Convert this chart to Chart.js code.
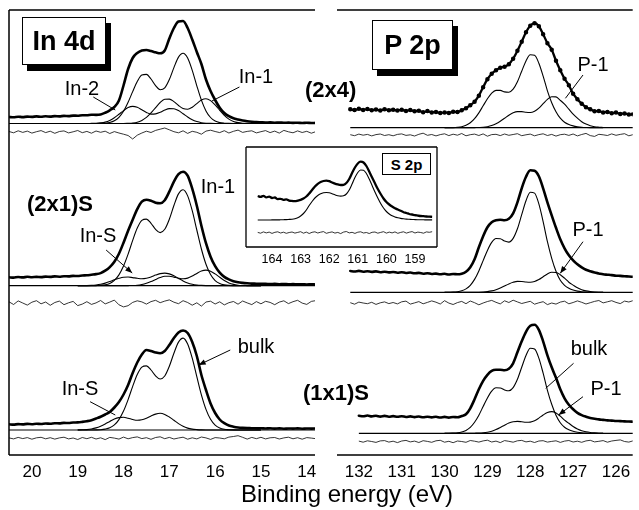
<!DOCTYPE html>
<html>
<head>
<meta charset="utf-8">
<script src="https://cdn.jsdelivr.net/npm/chart.js@4.4.1/dist/chart.umd.min.js"></script>
<style>
html,body{margin:0;padding:0;background:#fff;}
body{position:relative;width:639px;height:510px;overflow:hidden;font-family:"Liberation Sans",Arial,Helvetica,sans-serif;color:#000;}
canvas{position:absolute;}
.t{position:absolute;white-space:nowrap;line-height:1;font-size:20px;transform:translate(-50%,-50%);}
.b{position:absolute;white-space:nowrap;line-height:1;font-weight:bold;font-size:22px;transform:translate(0,-50%);}
.box{position:absolute;box-sizing:border-box;border:1.6px solid #000;background:#fff;display:flex;align-items:center;justify-content:center;font-weight:bold;line-height:1;}
</style>
</head>
<body>
<canvas id="cL" width="330" height="510" style="left:0;top:0;width:330px;height:510px"></canvas>
<canvas id="cR" width="309" height="510" style="left:330px;top:0;width:309px;height:510px"></canvas>
<canvas id="cS" width="205" height="140" style="left:240px;top:140px;width:205px;height:140px"></canvas>

<div class="box" style="left:22px;top:17px;width:84px;height:48px;font-size:27px;box-shadow:5px 6px 0 #000">In 4d</div>
<div class="box" style="left:372px;top:20px;width:81px;height:50px;font-size:27px;box-shadow:5px 6px 0 #000">P 2p</div>
<div class="box" style="left:382px;top:153px;width:49px;height:22px;font-size:15px;border-width:1.3px">S 2p</div>

<div class="b" style="left:305px;top:90px">(2x4)</div>
<div class="b" style="left:27px;top:204px">(2x1)S</div>
<div class="b" style="left:303px;top:393px">(1x1)S</div>

<div class="t" style="left:82px;top:88px">In-2</div>
<div class="t" style="left:256px;top:76px">In-1</div>
<div class="t" style="left:218px;top:186px">In-1</div>
<div class="t" style="left:98px;top:235px">In-S</div>
<div class="t" style="left:80px;top:388px">In-S</div>
<div class="t" style="left:256px;top:346px">bulk</div>
<div class="t" style="left:593px;top:64px">P-1</div>
<div class="t" style="left:588px;top:229px">P-1</div>
<div class="t" style="left:589px;top:348px">bulk</div>
<div class="t" style="left:606px;top:388px">P-1</div>
<div class="t" style="left:347px;top:494px;font-size:24px">Binding energy (eV)</div>

<script>
// ---------------- DATA ----------------
// In 4d panel
const inEnergy = [
20.5,20.4,20.3,20.2,20.1,20.0,19.9,19.8,19.7,19.6,
19.5,19.4,19.3,19.2,19.1,19.0,18.9,18.8,18.7,18.6,
18.5,18.4,18.3,18.2,18.1,18.0,17.9,17.8,17.7,17.6,
17.5,17.4,17.3,17.2,17.1,17.0,16.9,16.8,16.7,16.6,
16.5,16.4,16.3,16.2,16.1,16.0,15.9,15.8,15.7,15.6,
15.5,15.4,15.3,15.2,15.1,15.0,14.9,14.8,14.7,14.6,
14.5,14.4,14.3,14.2,14.1,14.0,13.9,13.8];
const inPeakE = [
19.0,18.9,18.8,18.7,18.6,18.5,18.4,18.3,18.2,18.1,
18.0,17.9,17.8,17.7,17.6,17.5,17.4,17.3,17.2,17.1,
17.0,16.9,16.8,16.7,16.6,16.5,16.4,16.3,16.2,16.1,
16.0,15.9,15.8,15.7,15.6,15.5,15.4,15.3,15.2,15.1,
15.0];
const inTicks = [20,19,18,17,16,15,14];

// (2x4)
const in24Raw = [
6.5,6.2,6.8,6.4,6.9,6.6,7.1,6.7,7.2,6.9,
7.4,7.1,7.6,7.4,7.9,7.8,8.3,8.2,8.8,8.6,
9.0,10.8,13.2,16.5,23,38,54.5,65.5,70.5,73,
73.5,72.5,71.2,70.2,73,85,95.5,102,102.5,95.5,
84,71.5,59.5,44,32.5,23.5,15.8,10.5,7.3,5.2,
4,3,2.3,1.8,1.4,1.2,1.0,1.1,0.8,1.0,
0.7,0.9,0.6,0.8,0.5,0.7,0.5,0.6];
const in24Bulk = [
0,0,0,0,0,0.1,0.3,1.0,2.7,6.2,
12.2,21.2,31.9,42.0,48.5,49.1,44.5,37.9,33.8,35.6,
43.9,55.9,66.4,70.3,65.5,53.2,37.7,23.4,12.6,6.0,
2.5,0.9,0.3,0.1,0,0,0,0,0,0,
0];
const in24In1 = [
0,0,0,0,0,0,0,0,0,0,
0,0.2,0.5,1.3,3.1,6.1,10.6,15.9,21.0,24.2,
24.4,21.9,18.0,15.0,14.3,16.3,19.9,23.4,24.7,22.9,
18.6,13.2,8.2,4.4,2.1,0.9,0.3,0.1,0,0,
0];
const in24In2 = [
0,0,0,0.1,0.2,0.6,1.4,3.1,5.7,9.2,
12.9,15.9,17.1,16.2,13.7,11.1,9.4,9.6,11.2,13.5,
14.9,14.8,12.9,9.8,6.5,3.7,1.9,0.8,0.3,0.1,
0,0,0,0,0,0,0,0,0,0,
0];
const in24Res = [
0.5,-0.8,1.2,-0.4,0.9,-1.1,0.3,1.4,-0.6,0.8,
-1.3,0.5,1.1,-0.9,0.2,1.5,-0.7,0.6,-1.2,1.0,
-0.3,0.8,-1.5,0.4,-1.0,-2.2,-3.5,-7.0,-3.2,-1.0,
0.8,-0.5,1.6,2.8,4.0,2.2,0.3,-0.8,1.2,-1.4,
0.7,-0.3,-2.2,0.9,1.8,0.5,-0.6,1.3,-1.0,0.7,
1.9,-0.4,0.6,1.2,-0.9,0.3,1.4,-0.6,0.9,-1.1,
1.6,0.2,-0.8,1.1,-0.5,0.7,-1.2,0.4];

// (2x1)S
const in21Raw = [
8.4,8.1,8.7,8.3,8.9,8.5,8.8,8.6,9.1,8.8,
9.3,9.0,9.5,9.3,9.8,9.7,10.2,10.4,11.0,11.6,
12.6,15,18.6,24,32,43,55,66,76.5,84,
86,85,83,82.5,85.5,94,104,111.5,114,110,
97,80,60,42.5,29,19.5,13,8.8,6.3,4.5,
3.4,2.8,2.4,2.1,2.0,1.8,1.9,1.6,1.8,1.5,
1.7,1.4,1.6,1.3,1.5,1.2,1.4,1.2];
const in21Bulk = [
0,0,0,0,0.1,0.3,0.9,2.3,5.3,10.8,
19.7,31.6,45.3,57.6,65.3,66.6,62.4,56.4,53.1,56.4,
66.5,80.2,91.8,95.9,89.8,75.0,55.7,36.7,21.5,11.2,
5.1,2.1,0.8,0.3,0.1,0,0,0,0,0,
0];
const in21InS = [
0,0,0.1,0.3,0.7,1.4,2.6,4.1,5.9,7.4,
8.5,8.7,8.1,7.4,6.9,7.4,8.7,10.6,12.1,12.6,
11.8,9.9,7.3,4.8,2.8,1.5,0.7,0.3,0.1,0,
0,0,0,0,0,0,0,0,0,0,
0];
const in21In1 = [
0,0,0,0,0,0,0,0,0,0,
0,0.1,0.2,0.5,1.2,2.4,4.1,6.2,8.1,9.4,
9.5,8.6,7.5,6.9,7.6,9.6,12.3,14.7,15.6,14.5,
11.8,8.4,5.2,2.8,1.3,0.5,0.2,0.1,0,0,
0];
const in21Res = [
1.5,-1.2,2.4,0.3,-1.8,1.1,2.6,-0.5,1.3,-2.0,
0.8,2.2,-1.4,0.5,1.9,-2.3,-0.8,1.6,-1.1,0.4,
2.8,-0.6,1.2,3.2,-1.5,-3.6,-2.4,0.9,2.5,1.4,
-0.8,1.7,3.0,0.6,2.2,3.4,1.1,-0.4,2.6,0.8,
-1.9,0.5,-2.8,1.3,2.1,-0.7,1.5,-1.6,0.6,1.8,
-0.9,2.3,0.4,-1.3,1.7,-0.5,2.0,0.9,-1.4,1.2,
2.5,-0.3,1.6,3.0,0.2,-1.1,1.9,2.7];

// (1x1)S
const in11Raw = [
5.7,5.4,5.9,5.6,6.1,5.8,6.2,6.0,6.5,6.3,
6.8,6.6,7.1,7.0,7.5,7.6,8.1,8.8,9.8,11.5,
13.3,15.5,18,22.5,28,35.5,45,57,67.5,75.5,
80,79,77.5,76.7,79,85,92,97.5,99.5,97,
88,74,55,40,26.5,17,10.5,6.8,4.5,3.3,
2.5,2.1,1.9,1.8,1.6,1.7,1.5,1.7,1.4,1.6,
1.3,1.5,1.4,1.6,1.3,1.5,1.4,1.5];
const in11Bulk = [
0,0,0,0,0.1,0.3,0.9,2.2,5.1,10.4,
18.9,30.4,43.6,55.4,62.8,64.1,60.0,54.2,51.0,54.0,
63.7,76.8,87.9,91.9,86.0,71.8,53.3,35.1,20.6,10.7,
4.9,2.0,0.7,0.3,0.1,0,0,0,0,0,
0];
const in11InS = [
0.1,0.2,0.4,1.0,2.1,3.8,6.0,8.6,11.0,12.4,
12.7,11.8,10.5,9.7,10.2,11.8,14.0,15.9,16.7,15.6,
13.0,9.7,6.4,3.7,1.9,0.9,0.4,0.1,0,0,
0,0,0,0,0,0,0,0,0,0,
0];
const in11Res = [
0.4,-0.6,0.9,-0.3,0.7,-0.9,0.5,1.0,-0.5,0.6,
-0.8,0.4,1.1,-0.6,0.3,-1.2,0.8,-0.4,1.0,-0.7,
0.5,-1.3,0.9,0.2,-0.8,1.2,-0.5,0.7,1.4,-0.3,
0.6,-1.0,0.8,1.5,-0.4,0.9,-0.7,0.3,1.1,-0.9,
0.5,-0.6,1.3,0.4,-1.1,0.7,0.3,-0.5,1.2,1.8,
2.6,1.0,-0.8,0.9,-0.4,1.0,-0.6,0.5,0.8,-0.7,
0.4,1.1,-0.5,0.6,-0.9,0.7,0.2,-0.4];

// P 2p panel
const pEnergy = [
132.2,132.1,132.0,131.9,131.8,131.7,131.6,131.5,131.4,131.3,
131.2,131.1,131.0,130.9,130.8,130.7,130.6,130.5,130.4,130.3,
130.2,130.1,130.0,129.9,129.8,129.7,129.6,129.5,129.4,129.3,
129.2,129.1,129.0,128.9,128.8,128.7,128.6,128.5,128.4,128.3,
128.2,128.1,128.0,127.9,127.8,127.7,127.6,127.5,127.4,127.3,
127.2,127.1,127.0,126.9,126.8,126.7,126.6,126.5,126.4,126.3,
126.2,126.1,126.0,125.9,125.8,125.7,125.6];
const pPeakE = [
130.0,129.9,129.8,129.7,129.6,129.5,129.4,129.3,129.2,129.1,
129.0,128.9,128.8,128.7,128.6,128.5,128.4,128.3,128.2,128.1,
128.0,127.9,127.8,127.7,127.6,127.5,127.4,127.3,127.2,127.1,
127.0,126.9,126.8,126.7,126.6,126.5,126.4,126.3];
const pTicks = [132,131,130,129,128,127,126];

const p24Raw = [
18.4,17.6,18.9,17.8,18.6,17.5,18.3,17.2,18.5,17.4,
18.0,17.1,17.9,16.8,17.6,16.5,16.9,15.4,16.6,15.2,
15.8,14.6,15.3,14.8,15.9,15.6,17.5,19.5,22.5,26,
32,40.5,48.5,54,57.5,60,61,63.5,69,77,
86,95.5,102,104.5,101.5,93.5,84.5,78,67,57.5,
49,42.5,34,28.5,24,20.5,18.5,16.5,16.8,15.2,
15.8,14.5,15.1,13.8,14.2,13.1,13.5];
const p24Bulk = [
0,0,0.1,0.4,1.0,2.4,4.9,9.0,14.8,21.9,
28.9,34.6,37.3,37.3,35.8,35.5,38.5,45.9,56.5,66.8,
73.0,72.4,64.5,51.6,36.9,25,16,9.5,5.5,3.2,
1.8,1.0,0.5,0.2,0,0,0,0];
const p24P1 = [
0,0,0,0,0,0,0,0.1,0.2,0.4,
1.0,2.1,3.9,6.4,9.4,12.5,14.9,16.1,16.1,15.4,
15.2,16.5,19.6,24.0,28.3,31.0,30.8,27.4,23.5,18.5,
13.5,9.5,6.0,3.6,2.0,1.0,0.5,0.2];
const p24Res = [
0.3,-0.7,0.9,-0.2,0.6,-0.9,0.4,1.0,-0.5,0.3,
-0.8,0.6,1.1,-0.4,0.2,-1.0,0.7,1.8,-0.3,0.5,
-0.9,0.4,1.2,-0.6,0.8,-0.2,1.5,-0.8,0.3,0.9,
-0.5,1.1,-1.2,0.4,0.7,-0.6,1.0,-0.3,0.5,1.3,
-0.7,0.2,0.9,-0.8,0.4,1.2,-0.5,0.6,-1.1,0.3,
0.8,-0.4,1.0,-0.9,0.5,1.6,-0.6,-1.4,0.7,0.2,
-0.5,1.1,-0.3,0.6,1.3,-0.8,0.4];

const p21Raw = [
21.3,20.8,21.4,20.6,21.1,20.4,20.9,20.1,20.6,19.9,
20.3,19.6,20.1,19.3,19.8,19.0,19.4,18.6,19.1,18.3,
18.7,18.0,18.5,17.8,18.3,18.0,18.6,20.5,25,33,
45,56,65,70,72,72.5,72,73.5,79,90,
104,115.5,122,121.5,116,104,90,77,64.5,53,
44,37,32,28,25,22.5,21,19.8,18.9,18.0,
17.6,17.2,16.6,16.4,16.0,15.8,15.5];
const p21Bulk = [
0,0.1,0.2,0.6,1.5,3.4,7.0,12.9,21.4,31.7,
41.9,49.9,53.8,53.6,51.3,50.2,53.9,63.5,77.7,91.6,
100.1,99.2,88.4,70.7,50.6,34,21,12,7,4,
2.2,1.2,0.6,0.3,0.1,0,0,0];
const p21P1 = [
0,0,0,0,0,0,0,0,0.1,0.3,
0.7,1.4,2.6,4.3,6.4,8.4,10.0,10.9,10.8,10.3,
10.1,10.8,12.7,15.5,18.3,20.0,19.8,17.6,14.1,10.1,
7.2,4.5,2.6,1.4,0.7,0.3,0.1,0];
const p21Res = [
0.6,-0.9,1.2,0.3,-0.4,1.0,-1.1,0.5,1.4,-0.3,
0.8,-0.6,1.5,2.2,-0.8,0.4,1.7,-0.5,0.9,2.4,
1.1,-0.7,2.6,0.2,-1.2,0.7,1.9,-0.4,2.3,0.6,
-1.5,0.3,1.8,2.9,1.0,-0.6,2.5,0.8,3.1,1.4,
-0.2,0.9,2.0,-0.9,0.5,1.6,-1.3,0.3,-0.8,1.2,
2.1,-0.5,0.8,2.4,1.0,-0.7,0.6,1.9,2.8,0.4,
1.5,2.6,0.9,-0.3,2.2,1.3,2.7];

const p11Raw = [
null,null,17.6,17.0,17.8,16.9,17.5,16.7,17.4,16.6,
17.2,16.5,17.1,16.3,16.9,16.2,16.8,16.0,16.6,15.9,
16.5,15.8,16.4,15.7,16.3,16.0,17.3,19,25,34,
44,52.5,58.5,62.5,63.5,63.5,63,64.5,70,81,
92,101.5,107.5,108.5,103.5,92,78,66,55.5,44,
35,28.5,24,20.5,18.2,16.6,15.3,14.6,13.9,13.4,
12.9,12.7,12.3,12.2,11.9,11.8,11.6];
const p11Bulk = [
0,0,0.2,0.5,1.3,2.9,5.9,11.0,18.1,26.8,
35.4,42.2,45.5,45.3,43.4,42.5,45.7,54.0,66.0,77.9,
85.1,84.3,75.2,60.1,43.0,29,18,10.5,6,3.5,
2,1.1,0.5,0.2,0,0,0,0];
const p11P1 = [
0,0,0,0,0,0,0,0.1,0.2,0.5,
1.1,2.1,3.7,5.8,8.1,10.2,11.5,11.9,11.5,11.0,
11.2,12.5,15.2,18.3,20.8,21.7,20.4,17.2,13.1,10,
6.8,4.3,2.6,1.5,0.8,0.4,0.1,0];
const p11Res = [
null,null,0.6,-0.5,0.9,0.2,-0.7,0.8,1.1,-0.4,
0.5,-0.9,0.7,1.3,-0.2,0.6,-0.8,1.0,0.3,-0.6,
0.9,1.4,-0.5,0.4,-1.0,0.7,0.2,-0.6,1.2,0.5,
-0.4,0.8,1.5,-0.3,0.6,-0.9,1.1,0.4,-0.5,0.9,
1.3,-0.2,0.5,-0.8,0.7,1.0,-0.4,0.3,0.9,-0.7,
0.6,1.2,-0.3,0.5,-0.6,0.8,1.4,-0.2,0.4,1.1,
-0.5,0.7,1.3,1.8,0.2,-0.4,0.9];

// S 2p inset
const sEnergy = [
164.5,164.4,164.3,164.2,164.1,164.0,163.9,163.8,163.7,163.6,
163.5,163.4,163.3,163.2,163.1,163.0,162.9,162.8,162.7,162.6,
162.5,162.4,162.3,162.2,162.1,162.0,161.9,161.8,161.7,161.6,
161.5,161.4,161.3,161.2,161.1,161.0,160.9,160.8,160.7,160.6,
160.5,160.4,160.3,160.2,160.1,160.0,159.9,159.8,159.7,159.6,
159.5,159.4,159.3,159.2,159.1,159.0,158.9,158.8,158.7,158.6,
158.5,158.4];
const sTicks = [164,163,162,161,160,159];
const sRaw = [
24.0,23.2,24.1,22.6,23.4,22.0,22.5,20.9,21.2,20.1,
20.6,19.4,19.1,18.8,19.4,20.2,21.5,23.5,26.5,30.0,
33.5,36.2,38.0,39.0,39.4,38.8,37.5,36.4,35.6,35.0,
35.2,37.0,41.0,47.0,52.5,56.5,58.3,57.5,54.0,48.5,
42.5,36.7,31.0,26.0,21.5,18.0,15.5,13.5,11.8,10.5,
9.2,7.8,7.0,6.0,5.5,4.8,4.4,4.0,3.8,3.5,
3.4,3.2];
const sFit = [
0,0,0,0,0,0.1,0.1,0.1,0.2,0.3,
0.4,0.6,0.8,1.3,2.3,4.0,6.5,10.0,14.5,18.5,
22.0,24.5,26.2,27.2,27.5,27.2,26.3,25.2,24.3,23.9,
24.2,26.0,30.0,36.0,42.5,47.5,50.0,49.8,46.5,41.0,
34.5,28.0,22.0,16.5,12.0,8.5,6.0,4.2,3.0,2.2,
1.6,1.2,0.9,0.7,0.5,0.4,0.3,0.2,0.2,0.1,
0.1,0.1];
const sRes = [
0.3,-0.5,0.8,-0.2,0.6,-0.7,0.4,0.9,-0.3,0.5,
-0.6,0.2,0.7,-0.4,0.3,1.0,-0.5,0.6,-0.8,0.4,
0.9,-0.3,0.5,1.1,-0.6,0.2,0.8,-0.4,0.3,-0.9,
0.6,1.2,-0.2,0.4,-0.7,0.5,0.9,-0.3,0.2,-0.8,
0.4,0.7,-0.5,0.3,1.0,-0.4,0.6,-0.2,0.8,-0.6,
0.3,0.9,-0.4,0.5,1.1,-0.3,0.6,0.2,-0.5,0.8,
0.4,1.0];

// ---------------- LAYOUT (vertical offsets of each stacked spectrum) ----------------
const OFF = {L24:331.5, L24r:323, L21:169.3, L21r:151.7, L11:25, L11r:16.7,
             R24:327.3, R24r:320, R21:162.7, R21r:151.7, R11:21.7, R11r:13.3,
             S:27, Sr:14.3};
const FONT = '"Liberation Sans", Arial, Helvetica, sans-serif';

const RAW = {borderWidth:2.6, tension:0.4, cubicInterpolationMode:'monotone', borderJoinStyle:'round', borderCapStyle:'round'};
const FIT = {borderWidth:1.1, tension:0.4, cubicInterpolationMode:'monotone'};
const BASE = {borderWidth:1.2, tension:0};
const RES = {borderWidth:0.8, tension:0};

function pts(xs, ys, off){ const o=[]; xs.forEach((x,i)=>{ if(ys[i]!=null) o.push({x:x, y:ys[i]+off}); }); return o; }
function ds(data, st){ return Object.assign({data:data, borderColor:'#000', backgroundColor:'#000', pointRadius:0, fill:false}, st); }
function firstE(xs, ys){ for(let i=0;i<xs.length;i++){ if(ys[i]!=null) return xs[i]; } return xs[0]; }
function baseLine(xs, ys, off){ const a=firstE(xs,ys), b=xs[xs.length-1]; return ds(pts([a,b],[0,0],off), BASE); }

function makeFrame(o){
  return {
    id:'frame',
    beforeDraw(chart){
      if(o.fill){ const a=chart.chartArea, c=chart.ctx; c.save(); c.fillStyle='#fff'; c.fillRect(a.left,a.top,a.right-a.left,a.bottom-a.top); c.restore(); }
    },
    afterDraw(chart){
      const c=chart.ctx, a=chart.chartArea, x=chart.scales.x, y=chart.scales.y;
      c.save(); c.strokeStyle='#000'; c.fillStyle='#000';
      c.lineWidth=o.lw; c.beginPath();
      c.moveTo(a.left,a.bottom); c.lineTo(a.right,a.bottom);
      if(o.top){ c.moveTo(a.left,a.top); c.lineTo(a.right,a.top); }
      if(o.left){ c.moveTo(a.left,a.top); c.lineTo(a.left,a.bottom); }
      if(o.right){ c.moveTo(a.right,a.top); c.lineTo(a.right,a.bottom); }
      c.stroke();
      c.lineWidth=o.tw; c.beginPath();
      const lo=Math.min.apply(null,o.ticks)-0.5, hi=Math.max.apply(null,o.ticks)+0.5;
      for(let v=lo; v<=hi+1e-9; v+=0.5){
        if(v<=x.min+0.03 || v>=x.max-0.03) continue;
        const px=Math.round(x.getPixelForValue(v))+0.5;
        const major=Math.abs(v-Math.round(v))<1e-6;
        c.moveTo(px,a.bottom); c.lineTo(px,a.bottom-(major?o.maj:o.mnr));
        if(o.top){ c.moveTo(px,a.top); c.lineTo(px,a.top+o.topLen); }
      }
      c.stroke();
      (o.notes||[]).forEach(n=>{
        const x1=x.getPixelForValue(n[0]), y1=y.getPixelForValue(n[1]);
        const x2=x.getPixelForValue(n[2]), y2=y.getPixelForValue(n[3]);
        c.lineWidth=1; c.beginPath(); c.moveTo(x1,y1); c.lineTo(x2,y2); c.stroke();
        if(n[4]){
          const ang=Math.atan2(y2-y1,x2-x1), L=7, W=2.8;
          const bx=x2-L*Math.cos(ang), by=y2-L*Math.sin(ang);
          c.beginPath(); c.moveTo(x2,y2);
          c.lineTo(bx+W*Math.sin(ang), by-W*Math.cos(ang));
          c.lineTo(bx-W*Math.sin(ang), by+W*Math.cos(ang));
          c.closePath(); c.fill();
        }
      });
      c.restore();
    }
  };
}

function makeChart(id, cfg){
  return new Chart(document.getElementById(id), {
    type:'line',
    data:{datasets:cfg.datasets},
    options:{
      responsive:false, animation:false, events:[],
      layout:{padding:cfg.pad},
      plugins:{legend:{display:false}, tooltip:{enabled:false}},
      elements:{point:{radius:0}},
      scales:{
        x:{type:'linear', reverse:true, min:cfg.xmin, max:cfg.xmax,
           afterBuildTicks:(s)=>{ s.ticks = cfg.ticks.map(v=>({value:v})); },
           afterFit:(s)=>{ s.height = cfg.axisH; },
           grid:{display:false, drawTicks:false, tickLength:0}, border:{display:false},
           ticks:{autoSkip:false, maxRotation:0, minRotation:0, padding:cfg.tpad, color:'#000',
                  font:{family:FONT, size:cfg.fs}, callback:(v)=>String(v)}},
        y:{display:false, min:0, max:cfg.ymax}
      }
    },
    plugins:[makeFrame(cfg.frame)]
  });
}

// ---------------- LEFT: In 4d ----------------
makeChart('cL', {
  xmin:13.82, xmax:20.5, ymax:445, ticks:inTicks, axisH:30, tpad:7, fs:17,
  pad:{left:9, right:15, top:10, bottom:25},
  frame:{lw:1.5, tw:1.3, top:true, left:true, maj:7, mnr:4, topLen:5,
    notes:[[15.47,368,16.07,354,false],[18.66,358,18.18,345,false],[18.38,205,17.81,182,true],
           [18.73,53.3,18.18,40,false],[15.67,105,16.36,90,true]]},
  datasets:[
    baseLine(inEnergy,in24Raw,OFF.L24),
    ds(pts(inPeakE,in24Bulk,OFF.L24),FIT), ds(pts(inPeakE,in24In1,OFF.L24),FIT), ds(pts(inPeakE,in24In2,OFF.L24),FIT),
    ds(pts(inEnergy,in24Raw,OFF.L24),RAW), ds(pts(inEnergy,in24Res,OFF.L24r),RES),
    baseLine(inEnergy,in21Raw,OFF.L21),
    ds(pts(inPeakE,in21Bulk,OFF.L21),FIT), ds(pts(inPeakE,in21InS,OFF.L21),FIT), ds(pts(inPeakE,in21In1,OFF.L21),FIT),
    ds(pts(inEnergy,in21Raw,OFF.L21),RAW), ds(pts(inEnergy,in21Res,OFF.L21r),RES),
    baseLine(inEnergy,in11Raw,OFF.L11),
    ds(pts(inPeakE,in11Bulk,OFF.L11),FIT), ds(pts(inPeakE,in11InS,OFF.L11),FIT),
    ds(pts(inEnergy,in11Raw,OFF.L11),RAW), ds(pts(inEnergy,in11Res,OFF.L11r),RES)
  ]
});

// ---------------- RIGHT: P 2p ----------------
makeChart('cR', {
  xmin:125.61, xmax:132.51, ymax:445, ticks:pTicks, axisH:30, tpad:7, fs:17,
  pad:{left:7, right:0, top:10, bottom:25},
  frame:{lw:1.5, tw:1.3, top:true, left:false, maj:7, mnr:4, topLen:5,
    notes:[[126.77,380,127.18,356.7,false],[126.77,213.3,127.30,181.7,true],
           [126.99,91.7,127.64,66.7,false],[126.77,58.3,127.34,40,true]]},
  datasets:[
    baseLine(pEnergy,p24Raw,OFF.R24),
    ds(pts(pPeakE,p24Bulk,OFF.R24),FIT), ds(pts(pPeakE,p24P1,OFF.R24),FIT),
    ds(pts(pEnergy,p24Raw,OFF.R24),Object.assign({}, RAW, {borderWidth:2.3, pointRadius:1.1})), ds(pts(pEnergy,p24Res,OFF.R24r),RES),
    baseLine(pEnergy,p21Raw,OFF.R21),
    ds(pts(pPeakE,p21Bulk,OFF.R21),FIT), ds(pts(pPeakE,p21P1,OFF.R21),FIT),
    ds(pts(pEnergy,p21Raw,OFF.R21),RAW), ds(pts(pEnergy,p21Res,OFF.R21r),RES),
    baseLine(pEnergy,p11Raw,OFF.R11),
    ds(pts(pPeakE,p11Bulk,OFF.R11),FIT), ds(pts(pPeakE,p11P1,OFF.R11),FIT),
    ds(pts(pEnergy,p11Raw,OFF.R11),RAW), ds(pts(pEnergy,p11Res,OFF.R11r),RES)
  ]
});

// ---------------- INSET: S 2p ----------------
makeChart('cS', {
  xmin:158.23, xmax:164.91, ymax:100, ticks:sTicks, axisH:20, tpad:5, fs:12.5,
  pad:{left:6, right:8, top:7, bottom:13},
  frame:{lw:1.3, tw:1.1, top:true, left:true, right:true, fill:true, maj:5, mnr:3, topLen:0},
  datasets:[
    ds(pts(sEnergy,sFit,OFF.S),FIT),
    ds(pts(sEnergy,sRaw,OFF.S),{borderWidth:2.3, tension:0.4, cubicInterpolationMode:'monotone'}),
    ds(pts(sEnergy,sRes,OFF.Sr),RES)
  ]
});
</script>
</body>
</html>
